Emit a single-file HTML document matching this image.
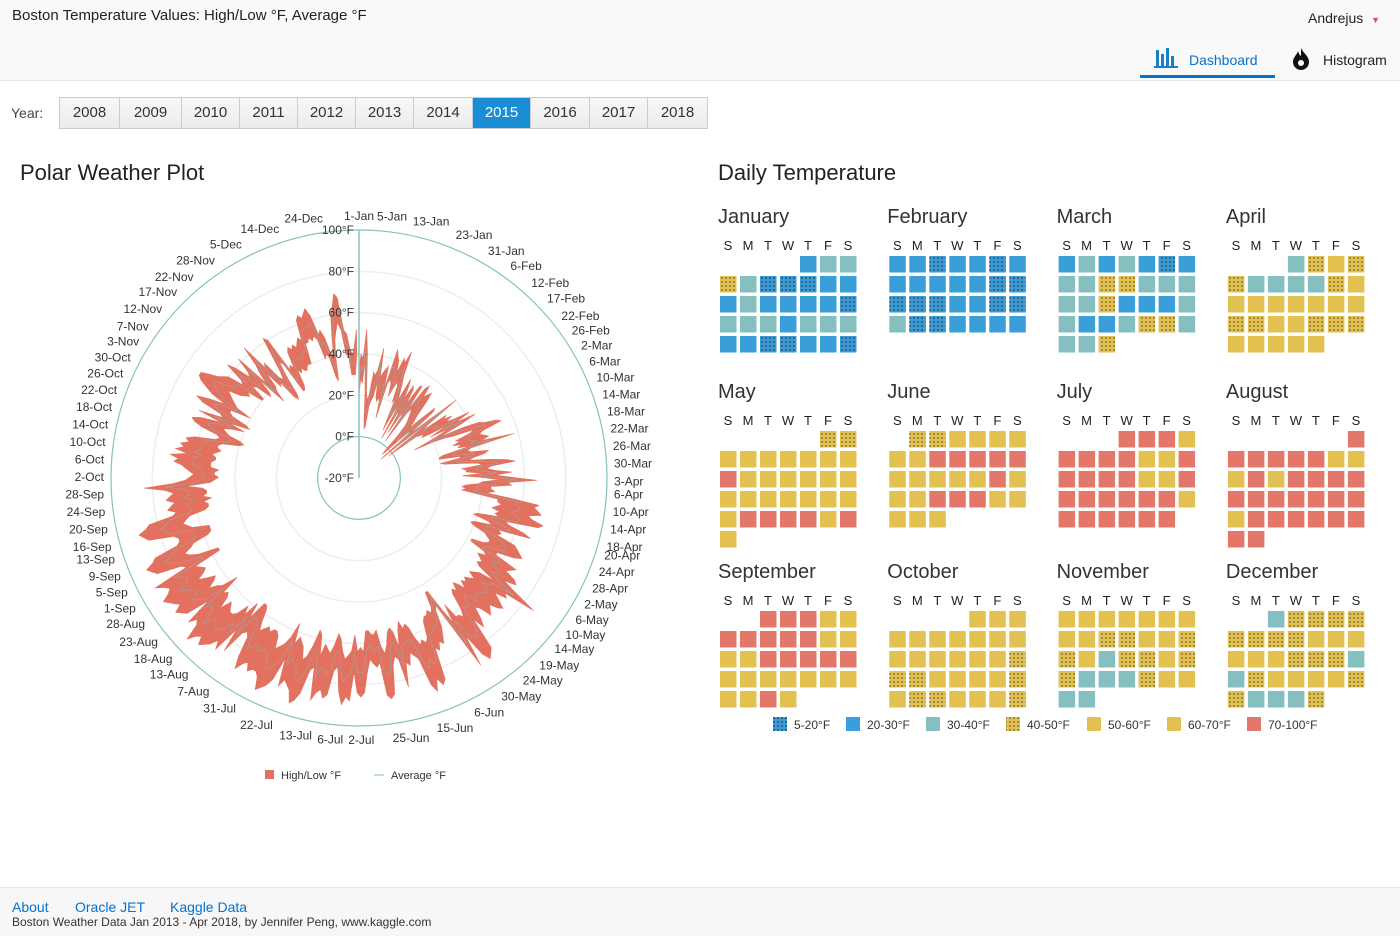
<!DOCTYPE html>
<html><head><meta charset="utf-8">
<style>
body{margin:0;width:1400px;height:935px;overflow:hidden;font-family:"Liberation Sans",sans-serif;background:#fff;color:#333;position:relative}
.hdr{position:absolute;left:0;top:0;width:1400px;height:80px;background:#f9f9f9;border-bottom:1px solid #e3e3e3}
.abs{position:absolute;white-space:nowrap}
.yr{position:absolute;top:97px;left:59px;display:flex;height:32px;border:1px solid #c4ced7;box-sizing:border-box}
.yr div{height:30px;line-height:30px;text-align:center;font-size:15px;color:#333;background:linear-gradient(#f7f7f7,#ececec);border-right:1px solid #c4ced7;box-sizing:border-box}
.yr div.sel{background:#1a8ed4;color:#fff}
.foot{position:absolute;left:0;top:887px;width:1400px;height:48px;background:#f7f7f7;border-top:1px solid #e6e6e6}
</style></head><body>
<div class="hdr"></div>
<div class="abs" style="left:12px;top:7px;font-size:15px;color:#222">Boston Temperature Values: High/Low °F, Average °F</div>
<div class="abs" style="left:1308px;top:10px;font-size:14px;color:#222">Andrejus <span style="color:#d9534f;font-size:9px;margin-left:4px">▼</span></div>
<svg class="abs" style="left:1154px;top:46px" width="26" height="24"><g fill="#1a7fc4"><rect x="2" y="4" width="3" height="16"/><rect x="7" y="8" width="3" height="12"/><rect x="12" y="2" width="3" height="18"/><rect x="17" y="10" width="3" height="10"/><rect x="0" y="20" width="24" height="2"/></g></svg>
<div class="abs" style="left:1189px;top:52px;font-size:14px;color:#0572ce">Dashboard</div>
<div class="abs" style="left:1140px;top:75px;width:135px;height:3px;background:#0572ce"></div>
<svg class="abs" style="left:1291px;top:47px" width="20" height="24"><path d="M10 1 C12 6 18 9 18 15 A8 8 0 0 1 2 15 C2 10 6 8 7 4 C8 8 10 9 10 9 Z" fill="#111"/><circle cx="10" cy="16" r="3" fill="#fff"/></svg>
<div class="abs" style="left:1323px;top:52px;font-size:14px;color:#222">Histogram</div>
<div class="abs" style="left:11px;top:105px;font-size:14px;color:#444">Year:</div>
<div class="yr">
<div style="width:60px">2008</div>
<div style="width:62px">2009</div>
<div style="width:58px">2010</div>
<div style="width:58px">2011</div>
<div style="width:58px">2012</div>
<div style="width:58px">2013</div>
<div style="width:59px">2014</div>
<div class="sel" style="width:58px">2015</div>
<div style="width:59px">2016</div>
<div style="width:58px">2017</div>
<div style="width:59px;border-right:none">2018</div>
</div>
<div class="abs" style="left:20px;top:160px;font-size:22px;color:#222">Polar Weather Plot</div>
<div class="abs" style="left:718px;top:160px;font-size:22px;color:#222">Daily Temperature</div>
<svg id="chart" class="abs" style="left:0;top:0" width="1400" height="885">
<defs>
<pattern id="dotB" width="4" height="4" patternUnits="userSpaceOnUse"><rect width="4" height="4" fill="#3a9ad6"/><circle cx="2" cy="2" r="0.8" fill="#1d2a3a"/></pattern>
<pattern id="dotY" width="4" height="4" patternUnits="userSpaceOnUse"><rect width="4" height="4" fill="#e2c150"/><circle cx="2" cy="2" r="0.7" fill="#333"/></pattern>
</defs>
</svg>
<div class="foot"></div>
<div class="abs" style="left:12px;top:899px;font-size:14px;color:#0572ce">About</div>
<div class="abs" style="left:75px;top:899px;font-size:14px;color:#0572ce">Oracle JET</div>
<div class="abs" style="left:170px;top:899px;font-size:14px;color:#0572ce">Kaggle Data</div>
<div class="abs" style="left:12px;top:915px;font-size:12px;color:#333">Boston Weather Data Jan 2013 - Apr 2018, by Jennifer Peng, www.kaggle.com</div>
<script>
const highs=[33,40,38,52,40,22,18,20,32,30,33,44,30,32,34,36,24,45,42,40,34,42,40,46,34,30,26,22,34,30,24,
32,30,22,33,34,20,34,36,30,32,34,30,24,20,18,14,22,30,28,12,24,40,22,18,32,30,34,30,
34,42,34,44,36,24,36,44,46,52,54,44,42,44,46,42,58,36,34,36,44,42,36,34,44,52,56,44,42,46,54,
46,54,66,52,54,44,44,46,42,54,68,66,68,70,64,66,72,70,54,56,64,68,52,54,52,62,64,66,68,64,
56,56,68,66,64,70,72,66,74,86,70,72,66,70,74,72,68,70,72,66,64,70,74,68,84,86,88,84,72,88,66,
52,54,62,66,70,68,72,70,86,88,84,90,86,72,70,68,74,72,84,70,68,72,86,88,86,70,72,70,68,74,
84,86,84,74,88,86,90,84,72,74,86,88,84,86,90,74,76,88,92,94,88,86,84,88,74,86,90,92,94,88,86,
86,88,84,86,90,84,74,72,74,86,74,88,84,88,90,92,88,90,94,86,84,88,74,86,88,90,86,88,90,92,88,
86,88,92,74,76,88,90,92,88,86,74,72,72,74,86,88,90,86,84,72,70,74,72,70,74,72,70,74,84,70,
64,62,60,62,64,66,70,68,72,64,70,66,68,64,66,62,52,50,52,60,64,66,62,52,64,52,54,64,68,62,54,
62,66,70,72,72,68,64,62,60,52,54,64,60,52,54,62,44,50,54,64,50,52,42,40,44,52,62,60,42,44,
42,50,52,50,52,50,52,54,52,62,64,62,64,66,62,52,54,50,42,40,50,60,64,70,68,52,50,42,40,44,52];
const lows=[20,28,26,37,22,8,4,5,15,18,20,28,20,18,20,18,10,28,30,28,22,26,30,28,20,22,12,6,16,20,2,
18,16,6,18,16,2,20,22,20,18,16,14,8,0,-4,-2,6,14,12,-6,6,28,4,-2,14,16,18,16,
20,30,20,30,22,10,20,26,30,40,38,30,32,28,32,30,36,22,20,20,30,30,20,22,30,38,40,30,32,32,40,
30,40,48,40,38,32,30,32,30,38,48,48,50,48,46,50,48,50,40,38,46,48,40,38,40,46,48,50,50,48,
42,42,50,52,48,50,52,50,52,62,54,52,50,54,52,50,52,50,54,50,48,52,50,52,60,64,62,62,54,64,54,
44,44,52,54,52,54,54,56,64,66,64,66,62,56,54,56,52,56,64,56,54,56,62,66,62,54,56,56,54,54,
64,62,64,56,64,66,68,64,58,56,62,66,64,62,68,58,56,64,70,72,66,64,62,66,56,64,68,70,72,66,64,
64,66,64,66,68,64,58,56,56,66,58,66,62,68,70,70,68,66,72,66,64,66,56,64,66,70,66,64,68,72,68,
66,68,70,56,56,66,70,72,68,66,58,56,56,56,64,66,68,66,64,56,54,54,56,52,56,54,54,56,64,52,
50,48,50,50,48,52,52,52,50,50,52,50,48,50,50,48,40,38,40,46,48,50,46,40,48,38,40,48,50,50,40,
48,50,52,54,56,50,48,46,48,40,40,48,46,38,40,48,32,38,40,48,38,40,30,28,30,40,48,46,30,30,
32,40,38,40,38,38,40,40,40,50,50,52,50,52,50,40,42,40,30,28,40,48,52,56,52,40,40,30,30,30,40];
const radialTicks=[-20,0,20,40,60,80,100];
const dateTicks=["1-Jan","5-Jan","13-Jan","23-Jan","31-Jan","6-Feb","12-Feb","17-Feb","22-Feb","26-Feb","2-Mar","6-Mar","10-Mar","14-Mar","18-Mar","22-Mar","26-Mar","30-Mar","3-Apr","6-Apr","10-Apr","14-Apr","18-Apr","20-Apr","24-Apr","28-Apr","2-May","6-May","10-May","14-May","19-May","24-May","30-May","6-Jun","15-Jun","25-Jun","2-Jul","6-Jul","13-Jul","22-Jul","31-Jul","7-Aug","13-Aug","18-Aug","23-Aug","28-Aug","1-Sep","5-Sep","9-Sep","13-Sep","16-Sep","20-Sep","24-Sep","28-Sep","2-Oct","6-Oct","10-Oct","14-Oct","18-Oct","22-Oct","26-Oct","30-Oct","3-Nov","7-Nov","12-Nov","17-Nov","22-Nov","28-Nov","5-Dec","14-Dec","24-Dec"];
const monthNames=["January","February","March","April","May","June","July","August","September","October","November","December"];
const binEdges=[20,30,40,50,60,70];
const binLabels=["5-20°F","20-30°F","30-40°F","40-50°F","50-60°F","60-70°F","70-100°F"];

const NS="http://www.w3.org/2000/svg";
const svg=document.getElementById('chart');
function mk(t,a,p){const e=document.createElementNS(NS,t);for(const k in a)e.setAttribute(k,a[k]);(p||svg).appendChild(e);return e;}
const CX=359,CY=478,RMAX=248,TMIN=-20,TMAX=100,N=365;
function rScale(t){return (t-TMIN)/(TMAX-TMIN)*RMAX;}
function aScale(i){return i/N*2*Math.PI;}
function pt(i,t){const a=aScale(i),r=rScale(t);return [CX+r*Math.sin(a),CY-r*Math.cos(a)];}
const mAbbr=["Jan","Feb","Mar","Apr","May","Jun","Jul","Aug","Sep","Oct","Nov","Dec"];
function doy(s){const [d,m]=s.split('-');const dt=new Date(2015,mAbbr.indexOf(m),+d);return Math.round((dt-new Date(2015,0,1))/864e5);}

const polar=mk('g',{});


radialTicks.forEach(t=>{
  const c=mk('circle',{cx:CX,cy:CY,r:rScale(t),fill:'none',stroke:(t===0||t===TMAX)?'#86c0c0':'#eeeeee','stroke-width':(t===0||t===TMAX)?1.2:1.5},polar);
  
  
});
let d='';
for(let i=0;i<highs.length;i++){const p=pt(i,highs[i]);d+=(i?'L':'M')+p[0].toFixed(1)+','+p[1].toFixed(1);}
for(let i=lows.length-1;i>=0;i--){const p=pt(i,lows[i]);d+='L'+p[0].toFixed(1)+','+p[1].toFixed(1);}
const area=mk('path',{d:d+'Z',fill:'#e2725f',stroke:'#e2725f','stroke-width':0.6,'stroke-linejoin':'miter'},polar);


let da='';
for(let i=0;i<highs.length;i++){const p=pt(i,(highs[i]+lows[i])/2);da+=(i?'L':'M')+p[0].toFixed(1)+','+p[1].toFixed(1);}
const avg=mk('path',{d:da,fill:'none',stroke:'#7fc3c3','stroke-width':0.6,opacity:0.6},polar);


const ax=mk('line',{x1:CX,y1:CY,x2:CX,y2:CY-rScale(TMAX),stroke:'#86c0c0','stroke-width':1.5},polar);


radialTicks.forEach(t=>{
  const tx=mk('text',{x:CX-5,y:CY-rScale(t)+4,'text-anchor':'end','font-size':12,fill:'#333'},polar);
  tx.textContent=t+'°F';
  
  
});
dateTicks.forEach(s=>{
  const a=aScale(doy(s)),sn=Math.sin(a),cs=Math.cos(a);
  const R=255+7*Math.abs(cs);
  const x=CX+R*sn,y=CY-R*cs;
  const anc=sn>0.06?'start':(sn<-0.06?'end':'middle');
  const tx=mk('text',{x:x,y:y+4,'text-anchor':anc,'font-size':12,fill:'#333'},polar);
  tx.textContent=s;
  
  
});
const lg=mk('g',{});


const l1=mk('rect',{x:265,y:770,width:9,height:9,fill:'#e2725f'},lg);


const t1=mk('text',{x:281,y:779,'font-size':11,fill:'#333'},lg);t1.textContent='High/Low °F';


const l2=mk('line',{x1:374,y1:775,x2:384,y2:775,stroke:'#86c0c0','stroke-width':1},lg);


const t2=mk('text',{x:391,y:779,'font-size':11,fill:'#333'},lg);t2.textContent='Average °F';



const fills=['url(#dotB)','#3a9fd8','#86bfbf','url(#dotY)','#e2c150','#e2c150','#e2776a'];
function cat(v){let c=0;while(c<binEdges.length&&v>=binEdges[c])c++;return c;}
const cal=mk('g',{});


const wd=['S','M','T','W','T','F','S'];
let dayIdx=0;
for(let m=0;m<12;m++){
  const ox=720+(m%4)*169.3, rowY=[256,431,611][Math.floor(m/4)];
  const tt=mk('text',{x:ox-2,y:rowY-33,'font-size':20,fill:'#333'},cal);tt.textContent=monthNames[m];
  
  
  wd.forEach((w,k)=>{const h=mk('text',{x:ox+8+k*20,y:rowY-6,'text-anchor':'middle','font-size':13,fill:'#222'},cal);h.textContent=w;
    
    });
  const first=new Date(2015,m,1).getDay();
  const nd=new Date(2015,m+1,0).getDate();
  for(let dd=0;dd<nd;dd++){
    const pos=first+dd,col=pos%7,row=Math.floor(pos/7);
    const v=(highs[dayIdx]+lows[dayIdx])/2;
    const r=mk('rect',{x:ox+col*20,y:rowY+row*20,width:16.5,height:16.5,fill:fills[cat(v)]},cal);
    
    
    dayIdx++;
  }
}
const lx=[773,846,926,1006,1087,1167,1247];
binLabels.forEach((s,k)=>{
  const r=mk('rect',{x:lx[k],y:717,width:14,height:14,fill:fills[k]},cal);
  
  
  const t=mk('text',{x:lx[k]+21,y:729,'font-size':12,fill:'#333'},cal);t.textContent=s;
  
  
});
</script>
</body></html>
